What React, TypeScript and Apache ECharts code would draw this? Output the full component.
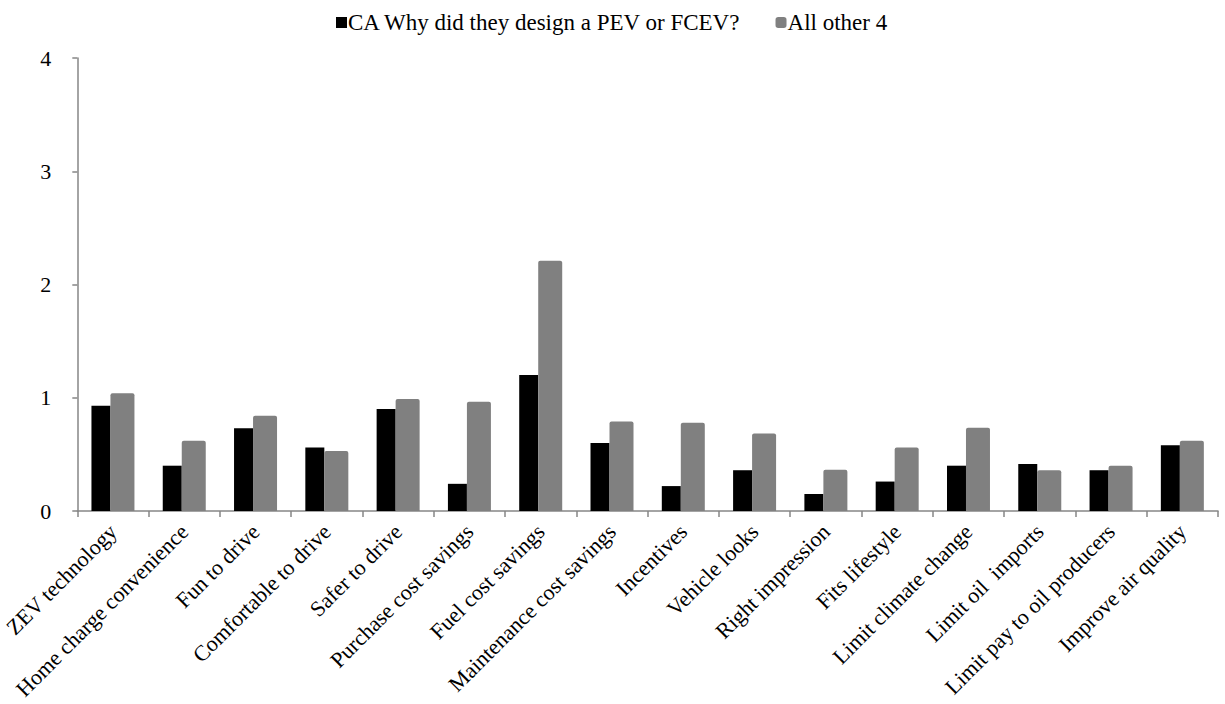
import React, { useEffect, useRef } from "react";
import * as echarts from "echarts";

const categories = [
  "ZEV technology",
  "Home charge convenience",
  "Fun to drive",
  "Comfortable to drive",
  "Safer to drive",
  "Purchase cost savings",
  "Fuel cost savings",
  "Maintenance cost savings",
  "Incentives",
  "Vehicle looks",
  "Right impression",
  "Fits lifestyle",
  "Limit climate change",
  "Limit oil  imports",
  "Limit pay to oil producers",
  "Improve air quality",
];
const caValues = [0.93, 0.4, 0.73, 0.56, 0.9, 0.24, 1.2, 0.6, 0.22, 0.36, 0.15, 0.26, 0.4, 0.415, 0.36, 0.58];
const otherValues = [1.04, 0.62, 0.84, 0.53, 0.99, 0.965, 2.21, 0.79, 0.78, 0.685, 0.365, 0.56, 0.735, 0.36, 0.4, 0.62];
const seriesNames = ["CA Why did they design a PEV or FCEV?", "All other 4"];
const yTicks = [0, 1, 2, 3, 4];

const FONT = "'Liberation Serif', 'Times New Roman', serif";
const AXIS = "#868686";

export default function App() {
  const ref = useRef<HTMLDivElement>(null);
  useEffect(() => {
    const chart = echarts.init(ref.current!, undefined, { renderer: "svg" });
    chart.setOption({
      animation: false,
      textStyle: { fontFamily: FONT, color: "#000" },
      legend: {
        top: 6,
        left: 331,
        itemWidth: 11,
        itemHeight: 11,
        itemGap: 34,
        textStyle: { fontFamily: FONT, fontSize: 23, color: "#000", padding: [0, 0, 0, -4] },
        data: [
          { name: seriesNames[0], icon: "rect" },
          { name: seriesNames[1], icon: "roundRect" },
        ],
      },
      grid: { left: 71, right: 7, top: 58, bottom: 193, containLabel: false },
      xAxis: {
        type: "category",
        data: categories,
        boundaryGap: true,
        axisLine: { lineStyle: { color: AXIS, width: 1.5 } },
        axisTick: { show: true, length: 6, lineStyle: { color: AXIS, width: 1.5 } },
        axisLabel: {
          interval: 0,
          rotate: 45,
          fontFamily: FONT,
          fontSize: 22,
          color: "#000",
          margin: 17,
        },
      },
      yAxis: {
        type: "value",
        min: yTicks[0],
        max: yTicks[yTicks.length - 1],
        interval: 1,
        axisLine: { show: true, lineStyle: { color: AXIS, width: 1.5 } },
        axisTick: { show: true, length: 5, lineStyle: { color: AXIS, width: 1.5 } },
        splitLine: { show: false },
        axisLabel: { fontFamily: FONT, fontSize: 22, color: "#000", margin: 26 },
      },
      series: [
        {
          name: seriesNames[0],
          type: "bar",
          data: caValues,
          barWidth: 19,
          barGap: "0%",
          itemStyle: { color: "#000000" },
        },
        {
          name: seriesNames[1],
          type: "bar",
          data: otherValues,
          barWidth: 24,
          barGap: "0%",
          itemStyle: { color: "#808080", borderRadius: [2, 2, 0, 0] },
        },
      ],
    });
    return () => chart.dispose();
  }, []);
  return (
    <div
      ref={ref}
      style={{ position: "absolute", left: 0, top: 0, width: 1225, height: 704 }}
    />
  );
}
